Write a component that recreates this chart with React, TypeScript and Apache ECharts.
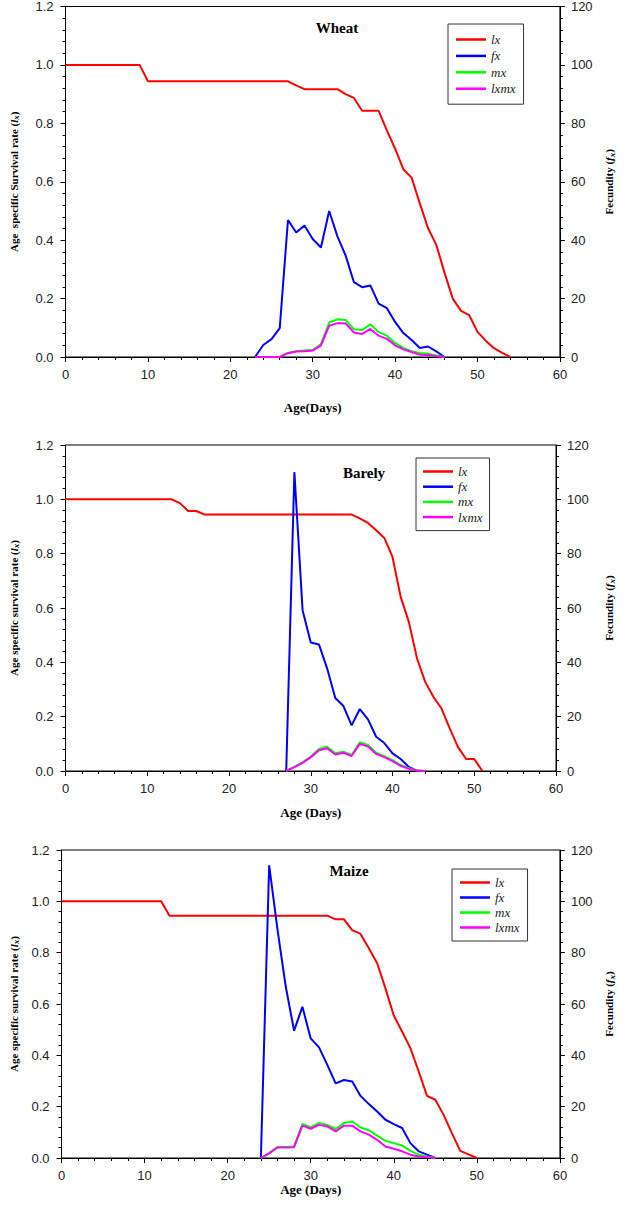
import { useEffect, useRef } from "react";
import * as echarts from "echarts";

// Wheat (ages in days; fx, mx, lxmx read on the fecundity axis)
const wheatLxStart = 0;
const wheatLx = [
  1, 1, 1, 1, 1, 1, 1, 1, 1, 1,
  0.944, 0.944, 0.944, 0.944, 0.944, 0.944, 0.944, 0.944, 0.944, 0.944,
  0.944, 0.944, 0.944, 0.944, 0.944, 0.944, 0.944, 0.944,
  0.93, 0.917, 0.917, 0.917, 0.917, 0.917, 0.9, 0.887,
  0.843, 0.843, 0.843, 0.776, 0.713, 0.643, 0.614, 0.526, 0.441, 0.384,
  0.288, 0.2, 0.158, 0.143, 0.086, 0.056, 0.03, 0.014, 0,
];
const wheatRepStart = 23;
const wheatFx = [0, 4.1, 6.1, 9.9, 46.9, 42.6, 45.0, 40.4, 37.5, 50.0, 41.3, 34.7, 25.6, 23.9, 24.5, 18.3, 16.7, 12.0, 8.2, 5.8, 3.1, 3.6, 1.9, 0];
const wheatMx = [0, 0, 0, 0, 1.4, 2.0, 2.2, 2.4, 4.4, 11.8, 12.9, 12.7, 9.5, 9.2, 11.2, 8.5, 7.3, 4.8, 3.1, 2.0, 1.4, 1.1, 0.5, 0];
const wheatLxmx = [0, 0, 0, 0, 1.3, 1.9, 2.0, 2.2, 4.0, 10.7, 11.6, 11.5, 8.4, 7.9, 9.6, 7.3, 6.2, 4.0, 2.6, 1.7, 0.8, 0.7, 0.3, 0];

// Barley
const barleyLxStart = 0;
const barleyLx = [
  1, 1, 1, 1, 1, 1, 1, 1, 1, 1, 1, 1, 1, 1,
  0.986, 0.957, 0.957,
  0.944, 0.944, 0.944, 0.944, 0.944, 0.944, 0.944, 0.944, 0.944, 0.944,
  0.944, 0.944, 0.944, 0.944, 0.944, 0.944, 0.944, 0.944, 0.944,
  0.93, 0.913, 0.886, 0.858, 0.788, 0.641, 0.549, 0.414, 0.328, 0.273,
  0.23, 0.157, 0.089, 0.044, 0.044, 0,
];
const barleyRepStart = 27;
const barleyFx = [0, 110.0, 59.2, 47.3, 46.6, 37.8, 26.9, 23.9, 16.8, 22.8, 19.0, 12.6, 10.3, 6.5, 4.4, 1.5, 0];
const barleyMx = [0, 1.5, 3.2, 5.3, 8.1, 8.9, 6.5, 7.1, 5.9, 10.6, 9.6, 6.7, 5.5, 4.0, 2.2, 1.0, 0.3, 0];
const barleyLxmx = [0, 1.4, 3.0, 5.0, 7.6, 8.4, 6.1, 6.7, 5.5, 10.0, 9.0, 6.3, 5.1, 3.6, 1.9, 0.8, 0.2, 0];

// Maize
const maizeLxStart = 0;
const maizeLx = [
  1, 1, 1, 1, 1, 1, 1, 1, 1, 1, 1, 1, 1,
  0.944, 0.944, 0.944, 0.944, 0.944, 0.944, 0.944, 0.944, 0.944, 0.944,
  0.944, 0.944, 0.944, 0.944, 0.944, 0.944, 0.944, 0.944, 0.944, 0.944,
  0.93, 0.93, 0.888, 0.873, 0.817, 0.759, 0.661, 0.555, 0.493, 0.428,
  0.337, 0.242, 0.227, 0.168, 0.097, 0.028, 0.014, 0,
];
const maizeRepStart = 24;
const maizeFx = [0, 114.0, 89.1, 66.7, 49.6, 58.9, 46.6, 43.1, 36.3, 29.1, 30.4, 29.8, 24.2, 21.0, 18.1, 14.9, 13.2, 11.7, 5.8, 2.6, 1.3, 0];
const maizeMx = [0, 1.9, 4.3, 4.3, 4.5, 13.3, 12.0, 13.6, 12.9, 11.3, 13.6, 14.2, 11.9, 10.8, 8.7, 6.7, 5.8, 4.9, 2.8, 1.3, 0.6, 0];
const maizeLxmx = [0, 1.8, 4.1, 4.1, 4.2, 12.6, 11.4, 12.9, 12.3, 10.4, 12.6, 12.6, 10.4, 9.1, 7.1, 4.5, 3.6, 2.6, 1.3, 0.6, 0.3, 0];

const seriesNames = ["lx", "fx", "mx", "lxmx"];
const seriesColors = ["#ff0000", "#0000ff", "#00ff00", "#ff00ff"];

const SERIF = "'Liberation Serif', 'Times New Roman', serif";
const SANS = "'Liberation Sans', Arial, sans-serif";

const toPairs = (start: number, vals: number[]) => vals.map((v, i) => [start + i, v]);

const panels = [
  {
    title: "Wheat", titleX: 337, titleY: 28,
    grid: { left: 59, top: 5, width: 505, height: 352 },
    xName: "Age(Days)", xGap: 44,
    yName: "Age  specific Survival rate (", yGap: 45, rGap: 41,
    legend: { left: 448, top: 24, gap: 3.4, pad: [9, 8, 9, 8] },
    lxStart: wheatLxStart, lx: wheatLx, repStart: wheatRepStart,
    fx: wheatFx, mx: wheatMx, lxmx: wheatLxmx,
  },
  {
    title: "Barely", titleX: 364, titleY: 473,
    grid: { left: 57.5, top: 445, width: 503.5, height: 326 },
    xName: "Age (Days)", xGap: 35,
    yName: "Age specific survival rate (", yGap: 45, rGap: 46,
    legend: { left: 416, top: 458, gap: 2.2, pad: [7, 7, 7, 7] },
    lxStart: barleyLxStart, lx: barleyLx, repStart: barleyRepStart,
    fx: barleyFx, mx: barleyMx, lxmx: barleyLxmx,
  },
  {
    title: "Maize", titleX: 349, titleY: 871,
    grid: { left: 53, top: 850, width: 516, height: 308 },
    xName: "Age (Days)", xGap: 25,
    yName: "Age specific survival rate (", yGap: 41, rGap: 42,
    legend: { left: 452, top: 869, gap: 2, pad: [7, 8, 7, 8] },
    lxStart: maizeLxStart, lx: maizeLx, repStart: maizeRepStart,
    fx: maizeFx, mx: maizeMx, lxmx: maizeLxmx,
  },
];

const axisLine = { show: true, lineStyle: { color: "#000", width: 1 } };
const axisTick = { show: true, inside: false, length: 5, lineStyle: { color: "#000" } };
const minorTick = { show: true, splitNumber: 5, length: 3, lineStyle: { color: "#000" } };
const tickLabel = (margin: number) => ({ fontFamily: SANS, fontSize: 13, color: "#222", margin });
const nameStyle = {
  fontFamily: SERIF, fontWeight: "bold", fontSize: 11, color: "#000",
  rich: {
    i: { fontFamily: SERIF, fontWeight: "bold", fontStyle: "italic", fontSize: 11, color: "#000" },
    s: { fontFamily: SERIF, fontWeight: "bold", fontStyle: "italic", fontSize: 9, color: "#000", padding: [5, 0, 0, 0] },
  },
};

export default function App() {
  const ref = useRef<HTMLDivElement>(null);
  useEffect(() => {
    if (!ref.current) return;
    const chart = echarts.init(ref.current, null, { renderer: "svg" });

    const grid: any[] = [];
    const xAxis: any[] = [];
    const yAxis: any[] = [];
    const series: any[] = [];
    const legend: any[] = [];
    const graphic: any[] = [];

    panels.forEach((p, i) => {
      grid.push({ ...p.grid, show: true, borderColor: "#000", borderWidth: 1, backgroundColor: "transparent" });
      xAxis.push({
        type: "value", gridIndex: i, min: 0, max: 60, interval: 10,
        name: p.xName, nameLocation: "middle", nameGap: p.xGap,
        nameTextStyle: { fontFamily: SERIF, fontWeight: "bold", fontSize: 13, color: "#000" },
        axisLine, axisTick, minorTick, splitLine: { show: false },
        axisLabel: tickLabel(11),
      });
      yAxis.push({
        type: "value", gridIndex: i, position: "left", min: 0, max: 1.2, interval: 0.2,
        name: p.yName + "{i|l}{s|x})", nameLocation: "middle", nameGap: p.yGap, nameRotate: 90,
        nameTextStyle: nameStyle,
        axisLine, axisTick, minorTick, splitLine: { show: false },
        axisLabel: { ...tickLabel(12), formatter: (v: number) => v.toFixed(1) },
      });
      yAxis.push({
        type: "value", gridIndex: i, position: "right", min: 0, max: 120, interval: 20,
        name: "Fecundity ({i|f}{s|x})", nameLocation: "middle", nameGap: p.rGap, nameRotate: 90,
        nameTextStyle: nameStyle,
        axisLine, axisTick, minorTick, splitLine: { show: false },
        axisLabel: tickLabel(11),
      });

      const datasets = [
        toPairs(p.lxStart, p.lx),
        toPairs(p.repStart, p.fx),
        toPairs(p.repStart, p.mx),
        toPairs(p.repStart, p.lxmx),
      ];
      datasets.forEach((data, k) => {
        series.push({
          name: seriesNames[k], type: "line",
          xAxisIndex: i, yAxisIndex: k === 0 ? 2 * i : 2 * i + 1,
          data, symbol: "none", showSymbol: false,
          lineStyle: { color: seriesColors[k], width: 2 },
          itemStyle: { color: seriesColors[k] },
        });
      });

      legend.push({
        orient: "vertical", left: p.legend.left, top: p.legend.top,
        data: seriesNames, icon: "rect", itemWidth: 30, itemHeight: 2.5,
        itemGap: p.legend.gap, padding: p.legend.pad,
        borderColor: "#333", borderWidth: 1, selectedMode: false,
        textStyle: { fontFamily: SERIF, fontStyle: "italic", fontSize: 13, color: "#222" },
      });

      graphic.push({
        type: "text", x: p.titleX, y: p.titleY,
        style: {
          text: p.title, textAlign: "center", textVerticalAlign: "middle",
          font: `bold 15px ${SERIF}`, fill: "#000",
        },
      });
    });

    chart.setOption({
      animation: false,
      backgroundColor: "#fff",
      grid, xAxis, yAxis, series, legend, graphic,
    });

    return () => {
      chart.dispose();
    };
  }, []);
  return (
    <div
      ref={ref}
      style={{ position: "absolute", left: 0, top: 0, width: 624, height: 1205 }}
    />
  );
}
